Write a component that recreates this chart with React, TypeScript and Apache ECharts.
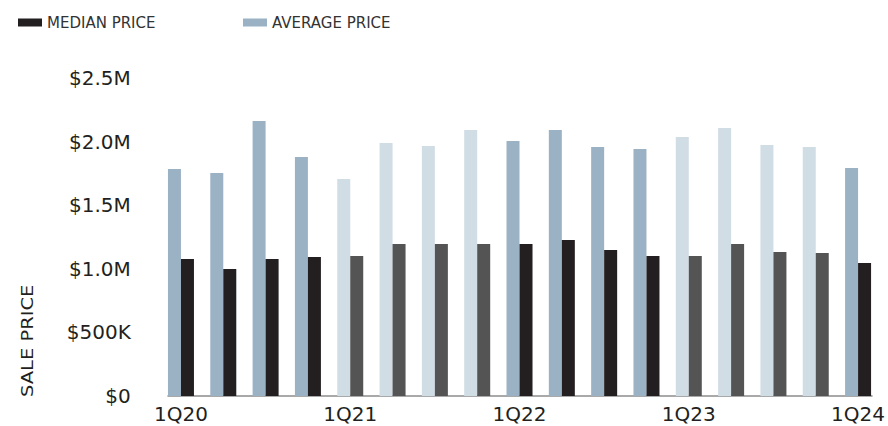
import React, { useEffect, useRef } from "react";
import * as echarts from "echarts";

const categories = ["1Q20","2Q20","3Q20","4Q20","1Q21","2Q21","3Q21","4Q21","1Q22","2Q22","3Q22","4Q22","1Q23","2Q23","3Q23","4Q23","1Q24"];
const averagePrice = [1785000,1753000,2162000,1879000,1706000,1989000,1965000,2091000,2005000,2091000,1958000,1942000,2036000,2107000,1973000,1958000,1792000];
const medianPrice = [1077000,998000,1077000,1093000,1100000,1195000,1195000,1195000,1195000,1226000,1148000,1100000,1100000,1195000,1132000,1124000,1046000];
const lightQuarter = [false,false,false,false,true,true,true,true,false,false,false,false,true,true,true,true,false];
const yTicks = [0, 500000, 1000000, 1500000, 2000000, 2500000];

const AVG_DARK = "#9bb2c5";
const AVG_LIGHT = "#d0dde5";
const MED_DARK = "#231f20";
const MED_LIGHT = "#545454";
const FONT = "'DejaVu Sans', sans-serif";

function fmt(v: number): string {
  if (v === 0) return "$0";
  if (v < 1000000) return "$" + Math.round(v / 1000) + "K";
  return "$" + (v / 1000000).toFixed(1) + "M";
}

export default function App() {
  const ref = useRef<HTMLDivElement>(null);
  useEffect(() => {
    if (!ref.current) return;
    const chart = echarts.init(ref.current, null, { renderer: "svg" });
    const legendText = { fontFamily: FONT, fontSize: 15, color: "#333" };
    chart.setOption({
      animation: false,
      legend: [
        {
          data: ["MEDIAN PRICE"],
          left: 13,
          top: 10,
          icon: "rect",
          itemWidth: 24,
          itemHeight: 8,
          textStyle: legendText,
        },
        {
          data: ["AVERAGE PRICE"],
          left: 238,
          top: 10,
          icon: "rect",
          itemWidth: 24,
          itemHeight: 8,
          textStyle: legendText,
        },
      ],
      grid: [
        { left: 159.8, right: 7.8, top: 78, bottom: 30 },
        { left: 168, right: 16, top: 78, bottom: 30 },
      ],
      xAxis: [
        {
          type: "category",
          data: categories,
          gridIndex: 0,
          axisLine: { show: false },
          axisTick: { show: false },
          axisLabel: {
            interval: 3,
            fontFamily: FONT,
            fontSize: 20,
            color: "#231f20",
            margin: 8,
          },
        },
        {
          type: "value",
          gridIndex: 1,
          min: 0,
          max: 1,
          axisLine: { show: true, lineStyle: { color: "#8c8c8c", width: 1.5 } },
          axisTick: { show: false },
          axisLabel: { show: false },
          splitLine: { show: false },
        },
      ],
      yAxis: [
        {
          type: "value",
          gridIndex: 0,
          min: 0,
          max: 2500000,
          interval: 500000,
          axisLine: { show: false },
          axisTick: { show: false },
          splitLine: { show: false },
          axisLabel: {
            formatter: (v: number) => (yTicks.includes(v) ? fmt(v) : ""),
            fontFamily: FONT,
            fontSize: 20,
            color: "#231f20",
            margin: 29,
          },
        },
        { type: "value", gridIndex: 1, show: false, min: 0, max: 1 },
      ],
      graphic: [
        {
          type: "text",
          x: 35,
          y: 397,
          rotation: Math.PI / 2,
          scaleX: 1.3,
          style: {
            text: "SALE PRICE",
            fontFamily: FONT,
            fontSize: 15,
            fill: "#231f20",
            textAlign: "left",
            textVerticalAlign: "bottom",
          },
        },
      ],
      series: [
        {
          name: "AVERAGE PRICE",
          type: "bar",
          xAxisIndex: 0,
          yAxisIndex: 0,
          barWidth: 13,
          barGap: "0%",
          itemStyle: { color: AVG_DARK },
          data: averagePrice.map((v, i) => ({ value: v, itemStyle: { color: lightQuarter[i] ? AVG_LIGHT : AVG_DARK } })),
        },
        {
          name: "MEDIAN PRICE",
          type: "bar",
          xAxisIndex: 0,
          yAxisIndex: 0,
          barWidth: 13,
          barGap: "0%",
          itemStyle: { color: MED_DARK },
          data: medianPrice.map((v, i) => ({ value: v, itemStyle: { color: lightQuarter[i] ? MED_LIGHT : MED_DARK } })),
        },
      ],
    });
    return () => chart.dispose();
  }, []);
  return <div ref={ref} style={{ position: "absolute", left: 0, top: 0, width: 888, height: 426 }} />;
}
